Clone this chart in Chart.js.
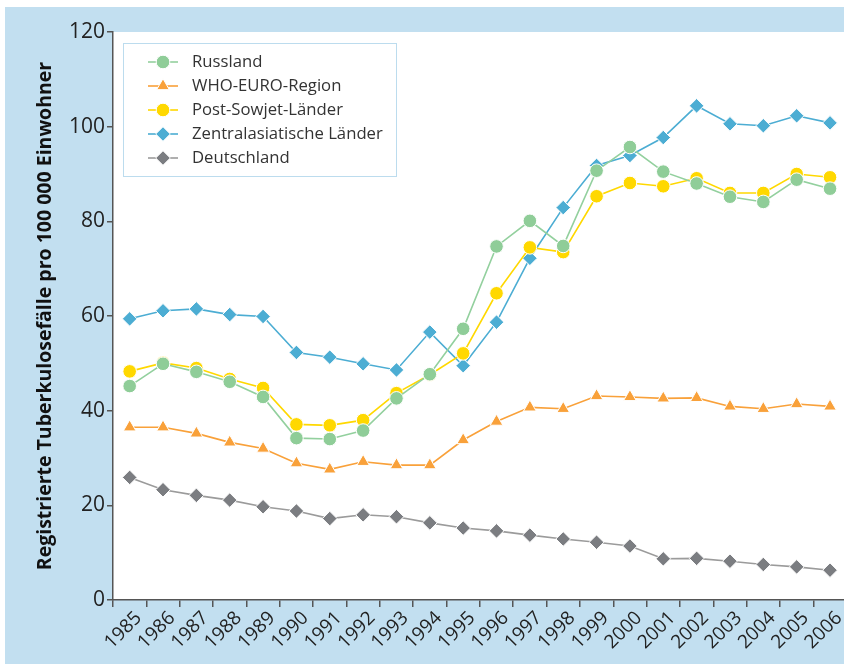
<!DOCTYPE html>
<html>
<head>
<meta charset="utf-8">
<script src="https://cdn.jsdelivr.net/npm/chart.js@4/dist/chart.umd.min.js"></script>
<style>
html, body { margin: 0; padding: 0; background: #fff; overflow: hidden; width: 844px; height: 664px; }
#frame { position: absolute; left: 5px; top: 7px; width: 850px; height: 657px; background: #c2dff0; }
</style>
</head>
<body>
<div id="frame"><canvas id="myChart" width="850" height="657"></canvas></div>
<script>
// data
const years = ['1985','1986','1987','1988','1989','1990','1991','1992','1993','1994','1995',
               '1996','1997','1998','1999','2000','2001','2002','2003','2004','2005','2006'];
const russland   = [45.2, 49.9, 48.2, 46.1, 42.9, 34.2, 34.0, 35.8, 42.6, 47.7, 57.3, 74.7, 80.1, 74.8, 90.7, 95.7, 90.5, 88.0, 85.2, 84.1, 88.8, 86.9];
const whoEuro    = [36.5, 36.5, 35.2, 33.3, 32.0, 28.9, 27.6, 29.2, 28.5, 28.5, 33.8, 37.7, 40.7, 40.4, 43.1, 42.9, 42.6, 42.7, 40.9, 40.4, 41.4, 40.9];
const postSowjet = [48.3, 50.1, 49.0, 46.7, 44.8, 37.1, 36.9, 38.0, 43.7, 47.6, 52.1, 64.8, 74.5, 73.5, 85.3, 88.1, 87.4, 89.1, 86.0, 86.0, 90.0, 89.3];
const zentral    = [59.4, 61.1, 61.5, 60.3, 59.9, 52.3, 51.3, 49.9, 48.6, 56.6, 49.5, 58.7, 72.2, 82.9, 91.8, 93.9, 97.7, 104.4, 100.6, 100.2, 102.3, 100.8];
const deutschland= [25.9, 23.3, 22.1, 21.1, 19.7, 18.8, 17.2, 18.0, 17.6, 16.3, 15.2, 14.6, 13.7, 12.9, 12.2, 11.4, 8.7, 8.8, 8.2, 7.5, 7.0, 6.3];
const yTicks = [0, 20, 40, 60, 80, 100, 120];

const FONT = '"Open Sans", "Noto Sans", sans-serif';

function series(label, data, line, fill, style, radius) {
  return {
    label: label,
    data: data,
    borderColor: line,
    borderWidth: 1.6,
    pointStyle: style,
    pointRadius: radius,
    pointHoverRadius: radius,
    pointBackgroundColor: fill,
    pointBorderColor: '#fff',
    pointBorderWidth: 1,
    tension: 0
  };
}

// white plot area on the blue frame
const plotBg = {
  id: 'plotBg',
  beforeDraw(chart) {
    const a = chart.chartArea, ctx = chart.ctx;
    ctx.save();
    ctx.fillStyle = '#fff';
    ctx.fillRect(a.left, a.top, a.right - a.left, a.bottom - a.top);
    ctx.restore();
  }
};

// legend box inside the plot, top left
const legendBox = {
  id: 'legendBox',
  afterDraw(chart) {
    const ctx = chart.ctx, a = chart.chartArea;
    const x0 = a.left + 10, y0 = a.top + 11, w = 273, h = 133;
    ctx.save();
    ctx.fillStyle = '#fff';
    ctx.fillRect(x0, y0, w, h);
    ctx.strokeStyle = '#bcdcee';
    ctx.lineWidth = 1;
    ctx.strokeRect(x0 + 0.5, y0 + 0.5, w, h);
    chart.data.datasets.forEach((ds, i) => {
      const y = y0 + 19 + i * 24;
      ctx.strokeStyle = ds.borderColor;
      ctx.lineWidth = ds.borderWidth;
      ctx.beginPath();
      ctx.moveTo(x0 + 25, y);
      ctx.lineTo(x0 + 55, y);
      ctx.stroke();
      ctx.fillStyle = ds.pointBackgroundColor;
      ctx.strokeStyle = ds.pointBorderColor;
      ctx.lineWidth = 1;
      Chart.helpers.drawPoint(ctx, { pointStyle: ds.pointStyle, radius: ds.pointRadius, borderWidth: 1, rotation: 0 }, x0 + 40, y);
      ctx.fillStyle = '#333';
      ctx.font = '16.7px ' + FONT;
      ctx.textBaseline = 'middle';
      ctx.textAlign = 'left';
      ctx.fillText(ds.label, x0 + 69, y);
    });
    ctx.restore();
  }
};

var ctx = document.getElementById('myChart').getContext('2d');
var chart = new Chart(ctx, {
  type: 'line',
  data: {
    labels: years,
    datasets: [
      series('Russland', russland, '#93d09e', '#8fcd98', 'circle', 6.8),
      series('WHO-EURO-Region', whoEuro, '#f9a13a', '#f9a13a', 'triangle', 7.3),
      series('Post-Sowjet-Länder', postSowjet, '#ffd800', '#ffd800', 'circle', 6.8),
      series('Zentralasiatische Länder', zentral, '#4cadd3', '#4cadd3', 'rectRot', 7.3),
      series('Deutschland', deutschland, '#9b9b9b', '#7b7d81', 'rectRot', 7.3)
    ]
  },
  options: {
    responsive: false,
    animation: false,
    layout: { padding: { left: 0, top: 25, right: 5.5, bottom: 0 } },
    plugins: {
      legend: { display: false },
      tooltip: { enabled: false }
    },
    scales: {
      x: {
        offset: true,
        grid: { offset: true, drawOnChartArea: false, drawTicks: true, tickLength: 7, color: '#555', lineWidth: 1.5 },
        border: { display: true, color: '#555', width: 1.5 },
        ticks: {
          color: '#222',
          font: { family: FONT, size: 19 },
          maxRotation: 45,
          minRotation: 45,
          autoSkip: false,
          padding: 0,
          labelOffset: 9
        },
        afterFit(scale) { scale.height = 64; }
      },
      y: {
        min: 0,
        max: 120,
        afterBuildTicks(scale) { scale.ticks = yTicks.map(v => ({ value: v })); },
        grid: { drawOnChartArea: false, drawTicks: true, tickLength: 6, color: '#555', lineWidth: 1.5 },
        border: { display: true, color: '#555', width: 1.5 },
        ticks: {
          color: '#222',
          font: { family: FONT, size: 21 },
          padding: 2
        },
        title: {
          display: true,
          text: 'Registrierte Tuberkulosefälle pro 100 000 Einwohner',
          color: '#111',
          font: { family: FONT, size: 19.5, weight: 'bold' },
          padding: { top: 29, bottom: 0 }
        },
        afterFit(scale) { scale.width = 108; }
      }
    }
  },
  plugins: [plotBg, legendBox]
});
</script>
</body>
</html>
